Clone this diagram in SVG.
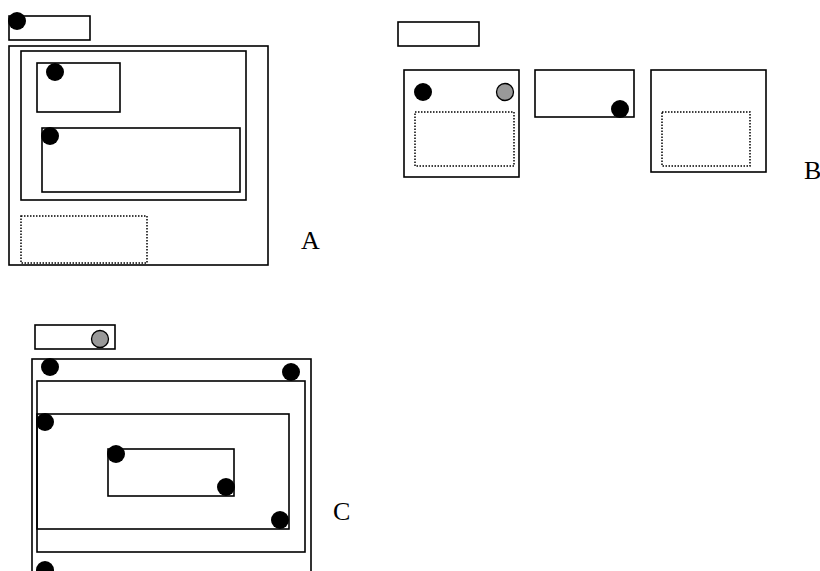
<svg xmlns="http://www.w3.org/2000/svg" width="820" height="571" viewBox="0 0 820 571">
<style>
.b{fill:none;stroke:#000;stroke-width:1.6}
.d{fill:none;stroke:#000;stroke-width:1.5;stroke-dasharray:1.5 1.5}
.k{fill:#000}
.g{fill:#999;stroke:#000;stroke-width:1.3}
.t{font-family:"Liberation Serif",serif;font-size:26px;fill:#000}
</style>
<rect width="820" height="571" fill="#fff"/>
<g id="groupA">
<rect class="b" x="9" y="16" width="81" height="24"/>
<circle class="k" cx="17" cy="21" r="9"/>
<rect class="b" x="9" y="46" width="259" height="219"/>
<rect class="b" x="21" y="51" width="225" height="149"/>
<rect class="b" x="37" y="63" width="83" height="49"/>
<circle class="k" cx="55" cy="72" r="9"/>
<rect class="b" x="42" y="128" width="198" height="64"/>
<circle class="k" cx="50" cy="136" r="9"/>
<rect class="d" x="21" y="216" width="126" height="47"/>
<text class="t" x="301" y="249">A</text>
</g>
<g id="groupB">
<rect class="b" x="398" y="22" width="81" height="24"/>
<rect class="b" x="404" y="70" width="115" height="107"/>
<circle class="k" cx="423" cy="92" r="9"/>
<circle class="g" cx="505" cy="92" r="8.5"/>
<rect class="d" x="415" y="112" width="99" height="54"/>
<rect class="b" x="535" y="70" width="99" height="47"/>
<circle class="k" cx="620" cy="109" r="9"/>
<rect class="b" x="651" y="70" width="115" height="102"/>
<rect class="d" x="662" y="112" width="88" height="54"/>
<text class="t" x="804" y="179">B</text>
</g>
<g id="groupC">
<rect class="b" x="35" y="325" width="80" height="24"/>
<circle class="g" cx="100" cy="339" r="8.5"/>
<rect class="b" x="32" y="359" width="279" height="230"/>
<circle class="k" cx="50" cy="367" r="9"/>
<circle class="k" cx="291" cy="372" r="9"/>
<rect class="b" x="37" y="381" width="268" height="171"/>
<rect class="b" x="37" y="414" width="252" height="115"/>
<circle class="k" cx="45" cy="422" r="9"/>
<rect class="b" x="108" y="449" width="126" height="47"/>
<circle class="k" cx="116" cy="454" r="9"/>
<circle class="k" cx="226" cy="487" r="9"/>
<circle class="k" cx="280" cy="520" r="9"/>
<circle class="k" cx="45" cy="570" r="9"/>
<text class="t" x="333" y="520">C</text>
</g>
<g id="connectors"/>
</svg>
